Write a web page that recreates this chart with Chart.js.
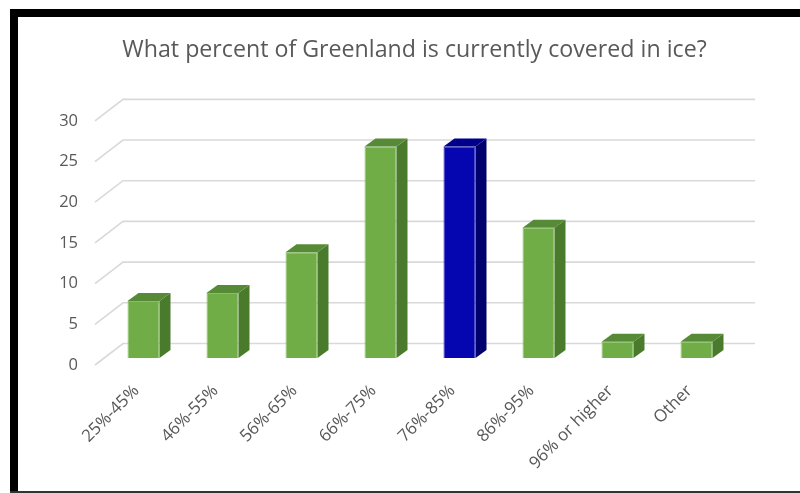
<!DOCTYPE html>
<html>
<head>
<meta charset="utf-8">
<script src="https://cdn.jsdelivr.net/npm/chart.js@4"></script>
<style>
  html, body { margin: 0; padding: 0; background: #fff; }
  #wrap { position: relative; width: 800px; height: 493px; }
  #wrap canvas { position: absolute; left: 0; top: 0; }
  .edge { position: absolute; background: #000; }
</style>
</head>
<body>
<div id="wrap">
  <canvas id="iceChart" width="800" height="493"></canvas>
  <div class="edge" style="left:10px; top:9px; width:790px; height:8px;"></div>
  <div class="edge" style="left:10px; top:9px; width:8px; height:484px;"></div>
  <div class="edge" style="left:10px; top:491px; width:790px; height:2px; background:#333;"></div>
</div>
<script>
const chartTitle = 'What percent of Greenland is currently covered in ice?';
const categories = ['25%-45%', '46%-55%', '56%-65%', '66%-75%', '76%-85%', '86%-95%', '96% or higher', 'Other'];
const responses = [7, 8, 13, 26, 26, 16, 2, 2];
const correctAnswer = '76%-85%';
const yMax = 30;
const yStep = 5;

// front / side / top shades for the boxes
const green = { front: '#70ad47', side: '#4a7a2c', top: '#578a37', edge: '#86c160' };
const blue = { front: '#0606b0', side: '#00006e', top: '#00008c', edge: '#2a2ad0' };
const shade = categories.map(c => (c === correctAnswer ? blue : green));

const depth = { dx: 11, dy: 8 };       // bar thickness
const wall = { dx: 19, dy: 14.5 };     // back wall offset from bar front
const floorFront = { dx: -9, dy: 7 };  // front edge offset from bar front

const backGrid = {
    id: 'backGrid',
    beforeDatasetsDraw(chart) {
        const { ctx, chartArea, scales } = chart;
        ctx.save();
        ctx.strokeStyle = '#d9d9d9';
        ctx.lineWidth = 1.6;
        scales.y.ticks.forEach(t => {
            const y = scales.y.getPixelForValue(t.value);
            ctx.beginPath();
            ctx.moveTo(chartArea.left + floorFront.dx, y + floorFront.dy);
            ctx.lineTo(chartArea.left + wall.dx, y - wall.dy);
            ctx.lineTo(chartArea.right + wall.dx, y - wall.dy);
            ctx.stroke();
        });
        ctx.restore();
    }
};

const boxFaces = {
    id: 'boxFaces',
    afterDatasetsDraw(chart) {
        const ctx = chart.ctx;
        ctx.save();
        chart.getDatasetMeta(0).data.forEach((bar, i) => {
            const { x, y, base, width } = bar.getProps(['x', 'y', 'base', 'width'], true);
            const l = x - width / 2, r = x + width / 2;
            ctx.fillStyle = shade[i].side;
            ctx.beginPath();
            ctx.moveTo(r, y);
            ctx.lineTo(r + depth.dx, y - depth.dy);
            ctx.lineTo(r + depth.dx, base - depth.dy);
            ctx.lineTo(r, base);
            ctx.closePath();
            ctx.fill();
            ctx.fillStyle = shade[i].top;
            ctx.beginPath();
            ctx.moveTo(l, y);
            ctx.lineTo(l + depth.dx, y - depth.dy);
            ctx.lineTo(r + depth.dx, y - depth.dy);
            ctx.lineTo(r, y);
            ctx.closePath();
            ctx.fill();
        });
        ctx.restore();
    }
};

Chart.defaults.font.family = '"Open Sans", Lato, sans-serif';
Chart.defaults.color = '#595959';

new Chart(document.getElementById('iceChart'), {
    type: 'bar',
    data: {
        labels: categories,
        datasets: [{
            data: responses,
            backgroundColor: shade.map(s => s.front),
            borderColor: shade.map(s => s.edge),
            borderWidth: 1,
            categoryPercentage: 1,
            barPercentage: 0.405
        }]
    },
    options: {
        animation: false,
        responsive: false,
        layout: { padding: { top: 20, left: 29, right: 0, bottom: 0 } },
        plugins: {
            legend: { display: false },
            tooltip: { enabled: false },
            title: {
                display: true,
                text: chartTitle,
                color: '#595959',
                font: { size: 23.2, weight: 'normal' },
                padding: { top: 16, bottom: 50 }
            }
        },
        scales: {
            x: {
                grid: { display: false, drawTicks: false },
                border: { display: false },
                ticks: {
                    font: { size: 17 },
                    minRotation: 45,
                    maxRotation: 45,
                    padding: 23,
                    labelOffset: -7
                },
                afterFit(scale) { scale.height = 135; }
            },
            y: {
                min: 0,
                max: yMax,
                grid: { display: false, drawTicks: false },
                border: { display: false },
                ticks: {
                    stepSize: yStep,
                    font: { size: 16.5 },
                    padding: 26,
                    labelOffset: 7
                },
                afterFit(scale) { scale.width = 75; }
            },
            // empty strip on the right, keeps the plot narrower than the title
            spacer: {
                type: 'linear',
                position: 'right',
                grid: { display: false, drawTicks: false },
                border: { display: false },
                ticks: { display: false },
                afterFit(scale) { scale.width = 64; }
            }
        }
    },
    plugins: [backGrid, boxFaces]
});
</script>
</body>
</html>
